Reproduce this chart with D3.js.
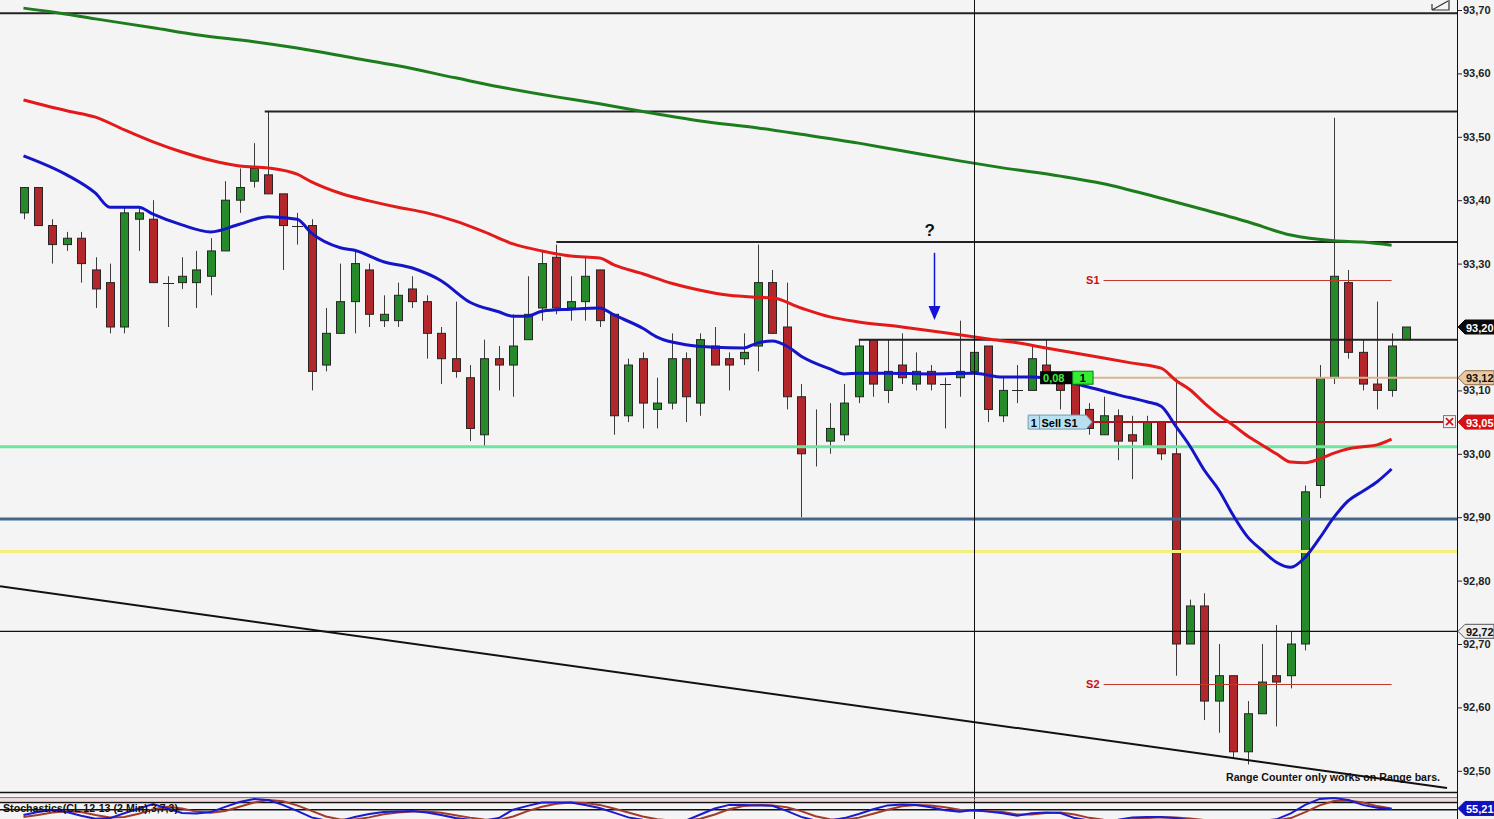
<!DOCTYPE html>
<html><head><meta charset="utf-8">
<script src="https://cdn.jsdelivr.net/npm/d3@7"></script>
<style>
html,body{margin:0;padding:0;background:#f4f4f4;overflow:hidden}
text{font-family:"Liberation Sans",Arial,sans-serif;font-weight:bold}
</style>
</head><body>
<svg id="c" width="1494" height="819"></svg>
<script>
// ---------- DATA ----------
const opens=[93.38,93.42,93.36,93.33,93.34,93.29,93.27,93.20,93.37,93.37,
93.27,93.27,93.27,93.28,93.32,93.40,93.43,93.44,93.41,93.36,
93.36,93.14,93.19,93.24,93.29,93.21,93.21,93.26,93.24,93.19,
93.15,93.12,93.03,93.15,93.14,93.18,93.23,93.31,93.23,93.24,
93.29,93.22,93.06,93.15,93.07,93.08,93.15,93.08,93.17,93.15,
93.15,93.17,93.27,93.20,93.09,93.01,93.02,93.03,93.09,93.18,
93.10,93.14,93.11,93.13,93.11,93.12,93.13,93.17,93.06,93.10,
93.10,93.14,93.11,93.11,93.07,93.03,93.06,93.03,93.01,93.05,
93.00,92.70,92.76,92.61,92.65,92.53,92.59,92.65,92.65,92.70,
92.95,93.12,93.27,93.16,93.11,93.10,93.18];
const highs=[93.42,93.42,93.37,93.35,93.35,93.31,93.30,93.39,93.39,93.40,
93.28,93.31,93.32,93.34,93.43,93.45,93.49,93.54,93.41,93.38,
93.37,93.23,93.30,93.32,93.30,93.25,93.27,93.28,93.25,93.20,
93.24,93.14,93.18,93.17,93.22,93.28,93.32,93.33,93.28,93.31,
93.29,93.22,93.15,93.16,93.12,93.19,93.16,93.19,93.20,93.16,
93.19,93.33,93.29,93.27,93.11,93.07,93.08,93.11,93.18,93.18,
93.18,93.19,93.16,93.14,93.12,93.21,93.18,93.17,93.12,93.14,
93.17,93.18,93.12,93.13,93.08,93.09,93.07,93.06,93.06,93.05,
93.12,92.77,92.78,92.70,92.65,92.61,92.70,92.73,92.72,92.95,
93.14,93.53,93.29,93.18,93.24,93.19,93.20];
const lows=[93.37,93.36,93.30,93.32,93.27,93.23,93.19,93.19,93.32,93.27,
93.20,93.26,93.23,93.25,93.32,93.38,93.42,93.41,93.29,93.33,
93.10,93.13,93.19,93.19,93.20,93.20,93.20,93.23,93.15,93.11,
93.12,93.02,93.01,93.10,93.09,93.18,93.21,93.22,93.21,93.21,
93.20,93.03,93.05,93.04,93.04,93.07,93.05,93.06,93.14,93.10,
93.14,93.13,93.19,93.07,92.90,92.98,93.00,93.02,93.08,93.09,
93.08,93.11,93.10,93.10,93.04,93.09,93.13,93.05,93.05,93.08,
93.10,93.12,93.07,93.06,93.03,93.03,92.99,92.96,93.01,92.99,
92.65,92.70,92.58,92.56,92.52,92.51,92.59,92.57,92.63,92.69,
92.93,93.11,93.15,93.10,93.07,93.09,93.18];
const closes=[93.42,93.36,93.33,93.34,93.30,93.26,93.20,93.38,93.38,93.27,
93.27,93.28,93.29,93.32,93.40,93.42,93.45,93.41,93.36,93.36,
93.13,93.19,93.24,93.30,93.22,93.22,93.25,93.24,93.19,93.15,
93.13,93.04,93.15,93.14,93.17,93.22,93.30,93.23,93.24,93.28,
93.21,93.06,93.14,93.08,93.08,93.15,93.09,93.18,93.14,93.14,
93.16,93.27,93.19,93.09,93.00,93.01,93.04,93.08,93.17,93.11,
93.13,93.12,93.13,93.11,93.11,93.13,93.16,93.07,93.10,93.10,
93.15,93.12,93.10,93.06,93.04,93.06,93.02,93.02,93.05,93.00,
92.70,92.76,92.61,92.65,92.53,92.59,92.64,92.64,92.70,92.94,
93.12,93.28,93.16,93.11,93.10,93.17,93.20];

// moving averages: [bar index, price]
const maFast=[[0,93.470],[3,93.440],[5,93.411],[6,93.389],[8,93.389],[9,93.378],[11,93.361],[13,93.350],[15,93.362],[17,93.374],[19,93.370],[20,93.348],[22,93.325],[23,93.321],[25,93.303],[27,93.293],[29,93.273],[31,93.239],[33,93.224],[34,93.217],[35,93.217],[36,93.225],[38,93.228],[40,93.230],[41,93.219],[43,93.198],[44,93.184],[46,93.172],[48,93.168],[50,93.167],[51,93.175],[52,93.178],[53,93.170],[54,93.154],[56,93.134],[57,93.126],[58,93.127],[60,93.127],[63,93.126],[66,93.127],[68,93.121],[70,93.121],[72,93.116],[74,93.105],[76,93.093],[78,93.082],[79,93.075],[80,93.044],[81,93.012],[82,92.974],[83,92.943],[84,92.903],[85,92.869],[86,92.848],[87,92.829],[88,92.821],[89,92.837],[90,92.867],[91,92.900],[92,92.926],[93,92.941],[94,92.956],[95,92.976]];
const maMid=[[0,93.558],[3,93.541],[5,93.531],[7,93.511],[9,93.492],[11,93.476],[13,93.463],[15,93.454],[17,93.451],[19,93.441],[20,93.429],[22,93.411],[24,93.399],[26,93.389],[28,93.380],[30,93.367],[32,93.350],[34,93.331],[36,93.320],[38,93.312],[40,93.309],[41,93.298],[43,93.284],[45,93.269],[47,93.258],[49,93.250],[51,93.247],[52,93.246],[54,93.230],[56,93.216],[58,93.208],[61,93.200],[64,93.191],[67,93.181],[69,93.175],[71,93.167],[73,93.159],[75,93.151],[77,93.143],[79,93.135],[80,93.116],[81,93.101],[82,93.080],[83,93.061],[84,93.045],[85,93.028],[86,93.014],[87,93.000],[88,92.987],[89,92.986],[90,92.992],[91,93.001],[92,93.008],[93,93.011],[94,93.014],[95,93.023]];
const maSlow=[[0,93.703],[2,93.697],[5,93.686],[9,93.672],[12,93.661],[16,93.650],[19,93.640],[23,93.624],[26,93.612],[30,93.593],[33,93.579],[37,93.563],[40,93.552],[44,93.536],[47,93.525],[51,93.514],[54,93.504],[58,93.490],[61,93.478],[65,93.462],[68,93.451],[72,93.438],[75,93.426],[79,93.403],[82,93.385],[85,93.366],[88,93.345],[91,93.336],[93,93.334],[95,93.329]];

// stochastics %K and %D per bar
const stochK=[28,40,49,40,25,12,15,35,55,74,55,36,34,40,62,82,95,90,70,45,18,5,3,20,32,40,43,45,38,28,15,8,5,15,50,66,80,80,80,70,57,38,18,8,3,2,5,30,55,70,70,68,66,45,20,5,5,15,32,52,68,72,70,60,48,42,49,42,35,25,35,38,36,15,5,3,8,18,20,20,15,5,2,1,1,2,4,10,35,70,95,99,90,70,58,53];
const stochD=[20,28,38,44,40,28,18,20,33,52,62,55,42,37,45,62,80,90,85,68,45,22,9,9,18,31,38,43,42,37,27,17,9,7,22,44,62,75,80,78,70,55,38,22,10,5,5,12,30,52,65,70,68,60,44,23,10,8,17,33,50,64,70,67,60,50,46,44,40,30,30,36,38,30,16,8,5,10,15,19,18,13,7,3,1,2,3,5,15,40,68,86,88,80,65,55];

const priceTicks=[93.70,93.60,93.50,93.40,93.30,93.20,93.10,93.00,92.90,92.80,92.70,92.60,92.50];
const resistPrices=[93.695,93.54,93.334,93.18];
const resistStart=[-2,16.75,37,58];
const levelPrices=[93.011,92.897,92.846,92.72];
const trendIdx=[-1.63,98.85], trendPrice=[92.791,92.473];
const pivotNames=["S1","S2"], pivotPrices=[93.274,92.637];
const lastPrice=93.20, targetPrice=93.12, entryPrice=93.05, markPrice=92.72, stochLast=55.21;
const stochTitle="Stochastics(CL 12-13 (2 Min),3,7,3)";
const rangeNote="Range Counter only works on Range bars.";

// ---------- CHART ----------
const W=1494,H=819,plotR=1457,plotB=792;
const svg=d3.select('#c');
svg.append('rect').attr('width',W).attr('height',H).attr('fill','#f4f4f4');
const x=d3.scaleLinear().domain([0,96]).range([23.5,1406]);
const y=d3.scaleLinear().domain([92.50,93.70]).range([770.8,10]);
const ys=d3.scaleLinear().domain([0,100]).range([821.7,797.7]);
const fmt=d3.formatLocale({decimal:",",thousands:".",grouping:[3],currency:["",""]}).format(".2f");
const px=v=>Math.round(v)+0.5;

const defs=svg.append('defs');
defs.append('clipPath').attr('id','cm').append('rect').attr('x',0).attr('y',0).attr('width',plotR).attr('height',plotB);
defs.append('clipPath').attr('id','cs').append('rect').attr('x',0).attr('y',plotB+1).attr('width',plotR).attr('height',H-plotB);

const gm=svg.append('g').attr('clip-path','url(#cm)');
const idx=d3.range(opens.length);

// candles
const gc=gm.append('g');
gc.selectAll('line.wick').data(idx).join('line').attr('class','wick')
  .attr('x1',i=>px(x(i))).attr('x2',i=>px(x(i)))
  .attr('y1',i=>y(highs[i])).attr('y2',i=>y(lows[i]))
  .attr('stroke','#3c3c3c').attr('stroke-width',1);
const body=idx.filter(i=>opens[i]!==closes[i]);
gc.selectAll('rect.body').data(body).join('rect').attr('class','body')
  .attr('x',i=>Math.round(x(i))-4+0.5).attr('width',8)
  .attr('y',i=>y(Math.max(opens[i],closes[i])))
  .attr('height',i=>Math.max(1,y(Math.min(opens[i],closes[i]))-y(Math.max(opens[i],closes[i]))))
  .attr('fill',i=>closes[i]>opens[i]?'#26892a':'#b3262a')
  .attr('stroke','#262626').attr('stroke-width',1);
const doji=idx.filter(i=>opens[i]===closes[i]);
gc.selectAll('line.doji').data(doji).join('line')
  .attr('x1',i=>Math.round(x(i))-5).attr('x2',i=>Math.round(x(i))+6)
  .attr('y1',i=>px(y(opens[i]))).attr('y2',i=>px(y(opens[i])))
  .attr('stroke','#262626').attr('stroke-width',1);

// full-width level lines
const levelStyle=[{c:'#6fe6a0',w:3},{c:'#43668f',w:3},{c:'#f4ef7c',w:3},{c:'#111',w:1.2}];
gm.selectAll('line.lvl').data(levelPrices).join('line')
  .attr('x1',0).attr('x2',plotR).attr('y1',d=>y(d)).attr('y2',d=>y(d))
  .attr('stroke',(d,i)=>levelStyle[i].c).attr('stroke-width',(d,i)=>levelStyle[i].w);

// resistance lines
gm.selectAll('line.res').data(resistPrices).join('line')
  .attr('x1',(d,i)=>x(resistStart[i])).attr('x2',plotR)
  .attr('y1',d=>y(d)).attr('y2',d=>y(d))
  .attr('stroke','#222').attr('stroke-width',2);

// trend line
gm.append('line').attr('x1',x(trendIdx[0])).attr('y1',y(trendPrice[0]))
  .attr('x2',x(trendIdx[1])).attr('y2',y(trendPrice[1]))
  .attr('stroke','#111').attr('stroke-width',2);

// vertical cursor line
svg.append('line').attr('x1',px(x(66))).attr('x2',px(x(66))).attr('y1',0).attr('y2',H)
  .attr('stroke','#111').attr('stroke-width',1);

// pivot lines
const pivStart=75,pivEnd=95;
gm.selectAll('line.piv').data(pivotPrices).join('line')
  .attr('x1',x(pivStart)).attr('x2',x(pivEnd)).attr('y1',d=>px(y(d))).attr('y2',d=>px(y(d)))
  .attr('stroke','#c0392b').attr('stroke-width',1);
gm.selectAll('text.piv').data(pivotNames).join('text')
  .attr('x',x(pivStart)-4).attr('y',(d,i)=>y(pivotPrices[i])+4)
  .attr('text-anchor','end').attr('font-size',11).attr('fill','#cc1010').text(d=>d);

// target / entry lines
const tagEnd=74.27;
gm.append('line').attr('x1',x(tagEnd)).attr('x2',plotR).attr('y1',y(targetPrice)).attr('y2',y(targetPrice))
  .attr('stroke','#d9b48e').attr('stroke-width',2);
gm.append('line').attr('x1',x(tagEnd)).attr('x2',1443).attr('y1',y(entryPrice)).attr('y2',y(entryPrice))
  .attr('stroke','#b0141a').attr('stroke-width',2);

// moving averages
const line=d3.line().x(d=>x(d[0])).y(d=>y(d[1])).curve(d3.curveMonotoneX);
gm.append('path').attr('d',line(maSlow)).attr('fill','none').attr('stroke','#1d7d1d').attr('stroke-width',3);
gm.append('path').attr('d',line(maMid)).attr('fill','none').attr('stroke','#e31a1a').attr('stroke-width',3);
gm.append('path').attr('d',line(maFast)).attr('fill','none').attr('stroke','#1414c8').attr('stroke-width',3);

// question mark + arrow
const arrI=63.2;
gm.append('text').attr('x',x(arrI)-4).attr('y',y(93.353)+6).attr('text-anchor','middle')
  .attr('font-size',17).attr('fill','#111').text('?');
gm.append('line').attr('x1',px(x(arrI))).attr('x2',px(x(arrI))).attr('y1',y(93.317)).attr('y2',y(93.225))
  .attr('stroke','#1414d8').attr('stroke-width',1.5);
{const ax=Math.round(x(arrI))+0.5, ay=y(93.211);
 gm.append('path').attr('d',`M${ax-6},${ay-14}L${ax+6},${ay-14}L${ax},${ay}Z`).attr('fill','#1414d8');}

// PnL tag "0,08 | 1"
{const x0=x(70.59), x1=x(72.85), x2=x(tagEnd), yt=y(targetPrice);
 gm.append('rect').attr('x',x0).attr('y',yt-6.5).attr('width',x1-x0).attr('height',13).attr('fill','#050505');
 gm.append('text').attr('x',x0+3).attr('y',yt+4.5).attr('font-size',11).attr('fill','#3cf03c').text('0,08');
 gm.append('rect').attr('x',x1).attr('y',yt-6.5).attr('width',x2-x1).attr('height',13).attr('fill','#33ee33').attr('stroke','#0a7a0a');
 gm.append('text').attr('x',(x1+x2)/2).attr('y',yt+4.5).attr('text-anchor','middle').attr('font-size',11).attr('fill','#000').text('1');
}
// order tag "1 | Sell S1"
{const x0=x(69.76), xs=x(70.55), x2=x(tagEnd)-1, ye=y(entryPrice);
 gm.append('path').attr('d',`M${x0},${ye-7}L${x2-6},${ye-7}L${x2},${ye}L${x2-6},${ye+7}L${x0},${ye+7}Z`)
   .attr('fill','#b9e0f1').attr('stroke','#6c9cb8');
 gm.append('line').attr('x1',xs).attr('x2',xs).attr('y1',ye-7).attr('y2',ye+7).attr('stroke','#6c9cb8');
 gm.append('text').attr('x',(x0+xs)/2).attr('y',ye+4.5).attr('text-anchor','middle').attr('font-size',11).attr('fill','#000').text('1');
 gm.append('text').attr('x',xs+2).attr('y',ye+4.5).attr('font-size',11).attr('fill','#000').text('Sell S1');
 // close box
 gm.append('rect').attr('x',1443.5).attr('y',ye-6.5).attr('width',12).attr('height',12).attr('fill','#f2f2f2').attr('stroke','#777');
 gm.append('path').attr('d',`M1446,${ye-4}L1453,${ye+3}M1453,${ye-4}L1446,${ye+3}`).attr('stroke','#d01010').attr('stroke-width',1.6);
}

// range counter note
svg.append('text').attr('x',1226).attr('y',781).attr('font-size',11).attr('fill','#111')
  .attr('textLength',214).attr('lengthAdjust','spacingAndGlyphs').text(rangeNote);

// top-right icon
svg.append('path').attr('d','M1432,10L1448,1M1432,10L1449,10L1449,0M1432,10L1432,4').attr('fill','none').attr('stroke','#333').attr('stroke-width',1.2);

// ---------- STOCHASTICS PANEL ----------
svg.append('line').attr('x1',0).attr('x2',plotR).attr('y1',plotB+0.5).attr('y2',plotB+0.5).attr('stroke','#111').attr('stroke-width',1.5);
const gs=svg.append('g').attr('clip-path','url(#cs)');
const stochLevels=[100,90,80,50];
const stochLevelStyle=[{c:'#a85050',w:1},{c:'#e8c4c4',w:1},{c:'#111',w:1.5},{c:'#111',w:1.5}];
gs.selectAll('line.sl').data(stochLevels).join('line')
  .attr('x1',0).attr('x2',plotR).attr('y1',d=>ys(d)).attr('y2',d=>ys(d))
  .attr('stroke',(d,i)=>stochLevelStyle[i].c).attr('stroke-width',(d,i)=>stochLevelStyle[i].w);
const sline=d3.line().x((d,i)=>x(i)).y(d=>ys(d));
gs.append('path').attr('d',sline(stochD)).attr('fill','none').attr('stroke','#a33a2a').attr('stroke-width',2);
gs.append('path').attr('d',sline(stochK)).attr('fill','none').attr('stroke','#1a1ad0').attr('stroke-width',2);
gs.append('text').attr('x',3).attr('y',812).attr('font-size',11).attr('fill','#111')
  .attr('textLength',175).attr('lengthAdjust','spacingAndGlyphs').text(stochTitle);

// ---------- AXIS ----------
svg.append('line').attr('x1',plotR+0.5).attr('x2',plotR+0.5).attr('y1',0).attr('y2',H).attr('stroke','#111');
// tick labels hidden behind the last-price marker are not drawn
const axis=d3.axisRight(y).tickValues(priceTicks)
  .tickFormat(v=>Math.abs(v-lastPrice)<0.005?'':fmt(v)).tickSize(5).tickPadding(1);
const ga=svg.append('g').attr('transform',`translate(${plotR},0)`).call(axis);
ga.select('.domain').remove();
ga.selectAll('.tick line').attr('stroke','#222');
ga.selectAll('.tick text').attr('font-size',11).attr('fill','#222')
  .attr('font-family','"Liberation Sans",Arial,sans-serif').attr('font-weight','bold');

// price markers
function marker(yv,label,fill,tfill,stroke){
  const g=svg.append('g');
  const x0=plotR+1;
  g.append('path').attr('d',`M${x0},${yv}L${x0+7},${yv-7}L${W},${yv-7}L${W},${yv+7}L${x0+7},${yv+7}Z`)
    .attr('fill',fill).attr('stroke',stroke||fill);
  g.append('text').attr('x',x0+8).attr('y',yv+4.5).attr('font-size',11).attr('fill',tfill).text(label);
}
marker(y(lastPrice),fmt(lastPrice),'#0a0a0a','#fff');
marker(y(targetPrice),fmt(targetPrice),'#e9c9a2','#111','#8a6a4a');
marker(y(entryPrice),fmt(entryPrice),'#d41212','#fff');
marker(y(markPrice),fmt(markPrice),'#ececec','#111','#555');
marker(ys(stochLast),fmt(stochLast),'#1010c0','#fff');
</script>
</body></html>
